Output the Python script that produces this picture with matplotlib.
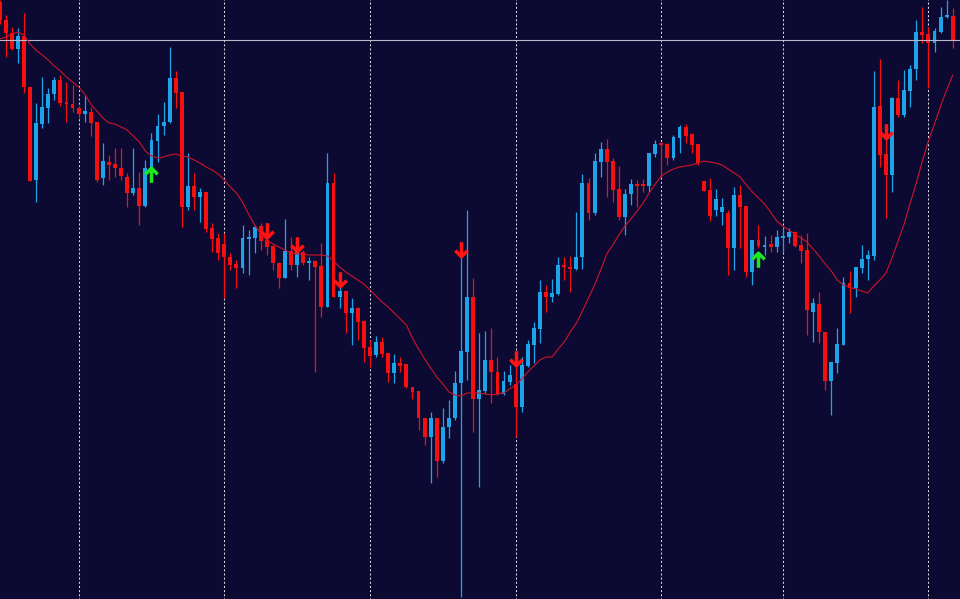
import matplotlib
matplotlib.use("Agg")
import matplotlib.pyplot as plt
import numpy as np
from matplotlib.path import Path

# ---------------- data (price units) ----------------
opens = [598, 580, 567, 551, 564, 513, 420, 476, 492, 506,
         520, 498, 496, 492, 486, 488, 478, 422, 438, 436,
         432, 423, 407, 412, 394, 432, 459, 474, 478, 522,
         508, 393, 414, 403, 408, 372, 362, 356, 343, 336,
         332, 361, 362, 374, 360, 354, 337, 322, 349, 335,
         348, 337, 339, 334, 293, 417, 303, 309, 287, 292,
         279, 253, 245, 258, 247, 227, 237, 236, 213, 209,
         182, 163, 182, 139, 173, 182, 217, 248, 303, 201,
         209, 240, 228, 206, 218, 216, 193, 234, 255, 271,
         308, 303, 306, 335, 333, 331, 343, 417, 387, 438,
         451, 439, 411, 383, 406, 416, 416, 414, 446, 457,
         456, 442, 462, 473, 466, 456, 419, 410, 390, 388,
         387, 352, 405, 394, 328, 360, 354, 356, 353, 363,
         363, 368, 355, 350, 288, 296, 268, 219, 237, 255,
         317, 312, 332, 341, 344, 494, 446, 425, 502, 485,
         509, 531, 568, 566, 557, 568, 583, 584]
highs = [600, 585, 573, 572, 587, 513, 497, 523, 512, 523,
         525, 518, 515, 494, 504, 493, 478, 457, 445, 452,
         452, 427, 452, 428, 440, 467, 486, 498, 553, 529,
         508, 447, 427, 412, 408, 377, 367, 367, 347, 340,
         375, 370, 375, 377, 373, 355, 338, 381, 363, 348,
         350, 343, 340, 357, 447, 427, 315, 309, 302, 293,
         280, 260, 264, 263, 247, 246, 243, 236, 213, 209,
         182, 188, 182, 192, 200, 229, 347, 390, 322, 267,
         269, 272, 243, 229, 235, 237, 243, 260, 278, 320,
         315, 321, 343, 343, 344, 388, 426, 422, 447, 458,
         461, 442, 434, 411, 421, 420, 421, 447, 460, 457,
         457, 465, 475, 476, 467, 456, 419, 422, 411, 402,
         390, 413, 415, 394, 360, 375, 364, 365, 370, 372,
         372, 369, 365, 367, 302, 308, 268, 238, 272, 323,
         329, 333, 355, 350, 529, 541, 467, 503, 520, 530,
         535, 580, 593, 573, 572, 593, 600, 592]
lows = [576, 543, 550, 537, 507, 419, 398, 472, 477, 500,
        494, 478, 488, 482, 478, 464, 418, 415, 420, 423,
        420, 393, 405, 375, 393, 430, 438, 465, 477, 492,
        373, 390, 390, 378, 368, 348, 340, 302, 330, 312,
        327, 325, 347, 350, 345, 330, 312, 322, 330, 323,
        335, 320, 228, 283, 293, 303, 292, 267, 255, 260,
        238, 233, 243, 243, 218, 217, 228, 212, 201, 170,
        155, 117, 123, 137, 162, 180, 3, 220, 168, 113,
        207, 197, 205, 205, 215, 163, 188, 233, 237, 257,
        288, 298, 305, 320, 308, 330, 331, 380, 385, 423,
        403, 398, 380, 365, 395, 393, 408, 408, 443, 423,
        435, 440, 447, 457, 447, 435, 409, 379, 384, 375,
        325, 330, 352, 323, 315, 352, 345, 348, 348, 348,
        357, 353, 337, 265, 258, 257, 210, 185, 227, 255,
        287, 303, 327, 320, 340, 433, 382, 408, 483, 483,
        493, 520, 557, 512, 548, 567, 582, 552]
closes = [580, 567, 551, 564, 513, 419, 477, 493, 506, 520,
          497, 496, 492, 486, 489, 477, 420, 439, 435, 432,
          424, 407, 412, 394, 432, 460, 474, 478, 522, 507,
          393, 414, 403, 408, 371, 361, 347, 343, 335, 332,
          362, 363, 373, 359, 353, 337, 322, 349, 335, 348,
          337, 339, 333, 293, 417, 303, 309, 287, 292, 278,
          252, 244, 258, 246, 227, 237, 234, 213, 208, 182,
          163, 182, 139, 173, 182, 217, 249, 303, 201, 210,
          240, 228, 206, 219, 225, 193, 235, 256, 272, 308,
          303, 307, 335, 333, 332, 343, 417, 387, 439, 451,
          438, 410, 383, 406, 416, 415, 415, 447, 456, 455,
          442, 463, 473, 464, 455, 437, 409, 384, 401, 393,
          352, 405, 393, 328, 360, 354, 355, 353, 363, 364,
          368, 354, 349, 290, 297, 268, 219, 238, 256, 317,
          312, 333, 341, 345, 493, 445, 425, 502, 485, 510,
          531, 568, 565, 557, 569, 583, 585, 560]
moving_average = [561, 563, 566, 568, 565, 556, 550, 545, 540, 534,
                  529, 523, 518, 513, 506, 496, 489, 482, 477, 476,
                  473, 470, 464, 458, 449, 444, 442, 443, 445, 446,
                  444, 443, 440, 437, 433, 430, 426, 420, 413, 407,
                  398, 386, 375, 366, 360, 356, 353, 350, 347, 346,
                  346, 345, 345, 345, 344, 339, 333, 328, 324, 320,
                  316, 310, 304, 298, 293, 287, 281, 275, 262, 251,
                  241, 232, 223, 216, 208, 205, 204, 207, 207, 207,
                  206, 205, 206, 207, 211, 215, 221, 228, 234, 240,
                  243, 243, 251, 258, 268, 277, 289, 302, 315, 330,
                  346, 355, 365, 374, 381, 389, 397, 407, 416, 424,
                  428, 431, 433, 434, 435, 437, 439, 438, 437, 435,
                  431, 427, 423, 415, 408, 402, 396, 388, 379, 374,
                  370, 366, 362, 358, 351, 344, 336, 329, 320, 315,
                  313, 311, 309, 307, 314, 320, 327, 342, 359, 376,
                  397, 417, 439, 459, 476, 494, 510, 525]

sell_signal_bars = [44, 49, 56, 76, 85, 146]
sell_signal_prices = [370, 356, 321, 351, 242, 469]
buy_signal_bars = [25, 125]
buy_signal_prices = [425, 340]

grid_bars = [13, 37, 61, 85, 109, 129, 153]
bid_price = 560

# ---------------- style ----------------
BG = "#0c0a33"
BULL = "#1fa3e8"
BEAR = "#f5100f"
MA_COLOR = "#cc1428"
GRID = "#d8d8e0"
BID = "#b8b8cc"
GREEN = "#1ee61e"

O = np.array(opens, float)
H = np.array(highs, float)
L = np.array(lows, float)
C = np.array(closes, float)
n = min(len(O), len(H), len(L), len(C))
O, H, L, C = O[:n], H[:n], L[:n], C[:n]
idx = np.arange(n)
up = C >= O
cols = np.where(up, BULL, BEAR)

fig = plt.figure(figsize=(9.6, 5.99), dpi=100)
fig.patch.set_facecolor(BG)
ax = fig.add_axes([0, 0, 1, 1])
ax.set_facecolor(BG)
ax.set_xlim(0.05, 158.2)
ax.set_ylim(1, 600)
ax.axis("off")

# grid
ax.vlines(grid_bars, 0, 605, colors=GRID, linewidth=0.75,
          linestyles=(0, (2, 2)), zorder=1)

# wicks
ax.vlines(idx, L, H, colors=cols, linewidth=0.9, zorder=2)
# bodies
body_h = np.maximum(np.abs(C - O), 1.2)
body_b = np.minimum(O, C) - np.where(np.abs(C - O) < 1.2, 0.6, 0)
ax.bar(idx, body_h, bottom=body_b, width=0.64, color=cols,
       linewidth=0, zorder=3)

# bid line
ax.axhline(bid_price, color=BID, linewidth=0.8, zorder=4)

# moving average
ma = np.array(moving_average, float)
m = min(len(ma), n)
ax.plot(idx[:m], ma[:m], color=MA_COLOR, linewidth=0.8, zorder=5)

# arrow markers
down_path = Path([(0, 1), (0, -0.9), (-0.85, -0.15), (0, -1), (0.85, -0.15)],
                 [Path.MOVETO, Path.LINETO, Path.MOVETO, Path.LINETO, Path.LINETO])
up_path = Path([(0, -1), (0, 0.9), (-0.85, 0.15), (0, 1), (0.85, 0.15)],
               [Path.MOVETO, Path.LINETO, Path.MOVETO, Path.LINETO, Path.LINETO])
ax.plot(sell_signal_bars, sell_signal_prices, linestyle="none", marker=down_path,
        markersize=10.5, markeredgewidth=2.5, markeredgecolor="#ff1414",
        markerfacecolor="none", zorder=6)
ax.plot(buy_signal_bars, buy_signal_prices, linestyle="none", marker=up_path,
        markersize=10.5, markeredgewidth=2.5, markeredgecolor=GREEN,
        markerfacecolor="none", zorder=6)

fig.savefig("out.png", dpi=100, facecolor=BG)
